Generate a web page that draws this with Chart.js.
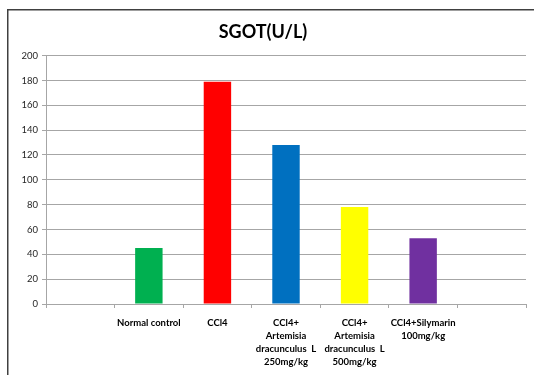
<!DOCTYPE html>
<html>
<head>
<meta charset="utf-8">
<script src="https://cdn.jsdelivr.net/npm/chart.js@4"></script>
<style>
  html, body { margin: 0; padding: 0; background: #fff; }
  #wrap { position: relative; width: 534px; height: 375px; }
</style>
</head>
<body>
<div id="wrap"><canvas id="sgotChart" width="534" height="375"></canvas></div>
<script>
        // data
        const groups = [
            '',
            'Normal control',
            'CCl4',
            ['CCl4+', 'Artemisia', 'dracunculus  L', '250mg/kg'],
            ['CCl4+', 'Artemisia', 'dracunculus  L', '500mg/kg'],
            ['CCl4+Silymarin', '100mg/kg'],
            ''
        ];
        const sgotValues = [null, 45, 179, 128, 78, 53, null];
        const barColors = ['#ffffff', '#00b050', '#ff0000', '#0070c0', '#ffff00', '#7030a0', '#ffffff'];
        const yTicks = [0, 20, 40, 60, 80, 100, 120, 140, 160, 180, 200];

        const FONT = 'Lato, "Liberation Sans", sans-serif';

        // outer frame of the chart object (runs off the right/bottom of the window)
        const framePlugin = {
            id: 'frame',
            afterDraw(chart) {
                const c = chart.ctx;
                c.save();
                c.strokeStyle = '#404040';
                c.lineWidth = 1.5;
                c.strokeRect(7.75, 9.75, 600, 400);
                c.restore();
            }
        };

        const ctx = document.getElementById('sgotChart').getContext('2d');
        const sgotChart = new Chart(ctx, {
            type: 'bar',
            data: {
                labels: groups,
                datasets: [{
                    label: 'SGOT(U/L)',
                    data: sgotValues,
                    backgroundColor: barColors,
                    borderWidth: 0,
                    barPercentage: 0.4,
                    categoryPercentage: 1.0
                }]
            },
            options: {
                responsive: false,
                animation: false,
                layout: { padding: { left: 0, right: 8, top: 0, bottom: 0 } },
                scales: {
                    x: {
                        offset: true,
                        grid: {
                            offset: true,
                            drawOnChartArea: false,
                            drawTicks: true,
                            tickLength: 4,
                            color: '#a6a6a6'
                        },
                        border: { display: true, color: '#a6a6a6' },
                        ticks: {
                            maxRotation: 0,
                            autoSkip: false,
                            padding: 9,
                            color: '#000',
                            font: { family: FONT, size: 9.5, weight: 'bold', lineHeight: 1.35 }
                        },
                        afterFit(scale) { scale.height = 71; }
                    },
                    y: {
                        min: 0,
                        max: 200,
                        afterBuildTicks(scale) {
                            scale.ticks = yTicks.map(v => ({ value: v }));
                        },
                        grid: {
                            color: '#a6a6a6',
                            tickLength: 4
                        },
                        border: { display: true, color: '#a6a6a6' },
                        ticks: {
                            padding: 4,
                            color: '#262626',
                            font: { family: FONT, size: 9.5 }
                        },
                        afterFit(scale) { scale.width = 46; }
                    }
                },
                plugins: {
                    legend: { display: false },
                    tooltip: { enabled: false },
                    title: {
                        display: true,
                        text: 'SGOT(U/L)',
                        color: '#000',
                        font: { family: FONT, size: 18, weight: 'bold', lineHeight: 1.2 },
                        padding: { top: 21, bottom: 13 }
                    }
                }
            },
            plugins: [framePlugin]
        });
</script>
</body>
</html>
